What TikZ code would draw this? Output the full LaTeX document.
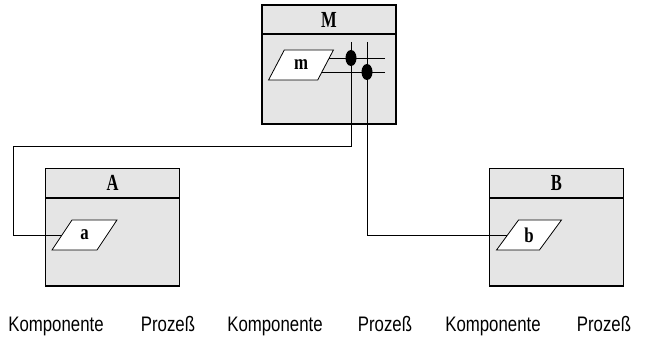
\documentclass[tikz,border=0pt]{standalone}
\usepackage{fontspec}
\usepackage{graphicx}
\setmainfont{Liberation Serif}
\newfontfamily\labelfont{Liberation Sans}
\usetikzlibrary{shapes.geometric}
\definecolor{boxgray}{gray}{0.9}
\newcommand{\narrow}[1]{\scalebox{0.8}[1]{#1}}
\newcommand{\headnarrow}[1]{\scalebox{0.72}[1]{#1}}

\tikzset{
  boxframe/.style={draw, line width=1.8pt, fill=boxgray, minimum width=134pt, inner sep=0pt},
  boxhead/.style={boxframe, minimum height=29pt, font=\fontsize{23}{27}\selectfont\bfseries},
  boxbody/.style={boxframe},
  port/.style={trapezium, trapezium left angle=56.3, trapezium right angle=123.7,
    trapezium stretches=true, draw, line width=0.8pt, fill=white,
    minimum width=65pt, minimum height=30pt, inner sep=0pt,
    font=\fontsize{21}{25}\selectfont\bfseries},
  wire/.style={line width=0.9pt},
  joint/.style={ellipse, fill=black, minimum width=11pt, minimum height=16pt, inner sep=0pt},
  caption/.style={font=\labelfont\fontsize{21}{25}\selectfont, anchor=base, inner sep=0pt}
}

\begin{document}
\begin{tikzpicture}[x=1pt, y=-1pt]
\useasboundingbox (0,0) rectangle (646,344);

% module M
\node[boxbody, minimum height=90pt] (Mbody) at (329,79) {};
\node[boxhead] (Mhead) at (329,19.5) {\headnarrow{M}};

% component A
\node[boxbody, minimum height=88pt] (Abody) at (112.5,242) {};
\node[boxhead] (Ahead) at (112.5,183) {\headnarrow{A}};

% component B
\node[boxbody, minimum height=88pt] (Bbody) at (556.5,242) {};
\node[boxhead] (Bhead) at (556.5,183) {\headnarrow{B}};

% ports of A and B
\node[port] (a) at (84.5,235) {\narrow{a}};
\node[port] (b) at (529,235) {\narrow{b}};

% bus lines inside M
\coordinate (mc) at (301,65);
\coordinate (t1) at (351,42);
\coordinate (t2) at (367,42);
\coordinate (d1) at (351,58);
\coordinate (d2) at (367,72);
\coordinate (e1) at (385,58);
\coordinate (e2) at (385,72);
\coordinate (k1) at (13,146);

\draw[wire] (e1) -- (mc |- e1);
\draw[wire] (e2) -- (mc |- e2);
\node[port] (m) at (mc) {\narrow{m}};

% connections from M down to the ports
\draw[wire] (t1) |- (k1) |- (a.west);
\draw[wire] (t2) |- (b.west);

\node[joint] (j1) at (d1) {};
\node[joint] (j2) at (d2) {};

% captions
\node[caption] (c1) at (56,332)  {\narrow{Komponente}};
\node[caption] (c2) at (168,332) {\narrow{Prozeß}};
\node[caption] (c3) at (275,332) {\narrow{Komponente}};
\node[caption] (c4) at (385,332) {\narrow{Prozeß}};
\node[caption] (c5) at (493,332) {\narrow{Komponente}};
\node[caption] (c6) at (604,332) {\narrow{Prozeß}};
\end{tikzpicture}
\end{document}
